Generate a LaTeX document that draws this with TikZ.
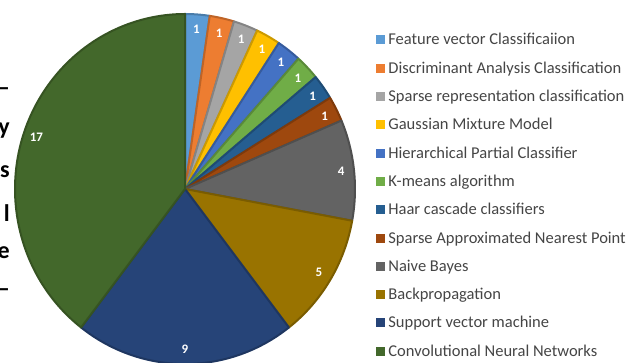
\documentclass[tikz,border=0pt]{standalone}
\usepackage{fontspec}
\setmainfont{Carlito}
\usetikzlibrary{calc}

\definecolor{cFeat}{HTML}{5B9BD5}
\definecolor{cDisc}{HTML}{ED7D31}
\definecolor{cSparse}{HTML}{A5A5A5}
\definecolor{cGauss}{HTML}{FFC000}
\definecolor{cHier}{HTML}{4472C4}
\definecolor{cKmeans}{HTML}{70AD47}
\definecolor{cHaar}{HTML}{255E91}
\definecolor{cSanp}{HTML}{9E480E}
\definecolor{cBayes}{HTML}{636363}
\definecolor{cBackprop}{HTML}{997300}
\definecolor{cSvm}{HTML}{264478}
\definecolor{cCnn}{HTML}{43682B}
\definecolor{legendgray}{HTML}{454545}

\begin{document}
\begin{tikzpicture}[x=1pt,y=1pt]


\tikzset{
	slice/.style={line width=2pt, line join=round},
	count/.style={text=white, font=\fontsize{13}{13}\selectfont\bfseries, inner sep=0pt},
	keybox/.style={minimum size=9pt, inner sep=0pt},
	keytext/.style={anchor=west, text=legendgray, font=\fontsize{16.5}{16.5}\selectfont,
		inner sep=0pt, text height=10pt, text depth=0pt},
	margintext/.style={anchor=east, font=\fontsize{24}{24}\selectfont\bfseries, inner sep=0pt}
}

\useasboundingbox (0,0) rectangle (641,363);

\coordinate (O) at (185,174);

% slices, clockwise from the top
\foreach \a/\v/\c [count=\i] in {0/1/cFeat, 1/1/cDisc, 2/1/cSparse, 3/1/cGauss,
		4/1/cHier, 5/1/cKmeans, 6/1/cHaar, 7/1/cSanp, 8/4/cBayes, 12/5/cBackprop,
		17/9/cSvm, 26/17/cCnn} {
	\pgfmathsetmacro\s{90-\a*360/43}
	\pgfmathsetmacro\e{90-(\a+\v)*360/43}
	\pgfmathsetmacro\m{(\s+\e)/2}
	\filldraw[slice, fill=\c, draw=\c!80!black] (O) -- ++(\s:170pt and 175pt)
		arc[start angle=\s, end angle=\e, x radius=170pt, y radius=175pt] -- cycle;
	\node[count] (val\i) at ($(O)+(\m:157pt and 160pt)$) {\v};
}

% legend
\foreach \c/\t [count=\i] in {cFeat/Feature vector Classificaiion,
		cDisc/Discriminant Analysis Classification,
		cSparse/Sparse representation classification,
		cGauss/Gaussian Mixture Model,
		cHier/Hierarchical Partial Classifier,
		cKmeans/K-means algorithm,
		cHaar/Haar cascade classifiers,
		cSanp/Sparse Approximated Nearest Point,
		cBayes/Naive Bayes,
		cBackprop/Backpropagation,
		cSvm/Support vector machine,
		cCnn/Convolutional Neural Networks} {
	\node[keybox, fill=\c] (key\i) at (380.5, {323-(\i-1)*28.3}) {};
	\node[keytext] (leg\i) at ([xshift=3pt]key\i.east) {\t};
}

% cut-off line ends of the page text
\foreach \t/\y [count=\i] in {--/271, y/232, s/191, l/150, e/110, --/70}
	\node[margintext] (frag\i) at (10,\y) {\t};

\end{tikzpicture}
\end{document}
